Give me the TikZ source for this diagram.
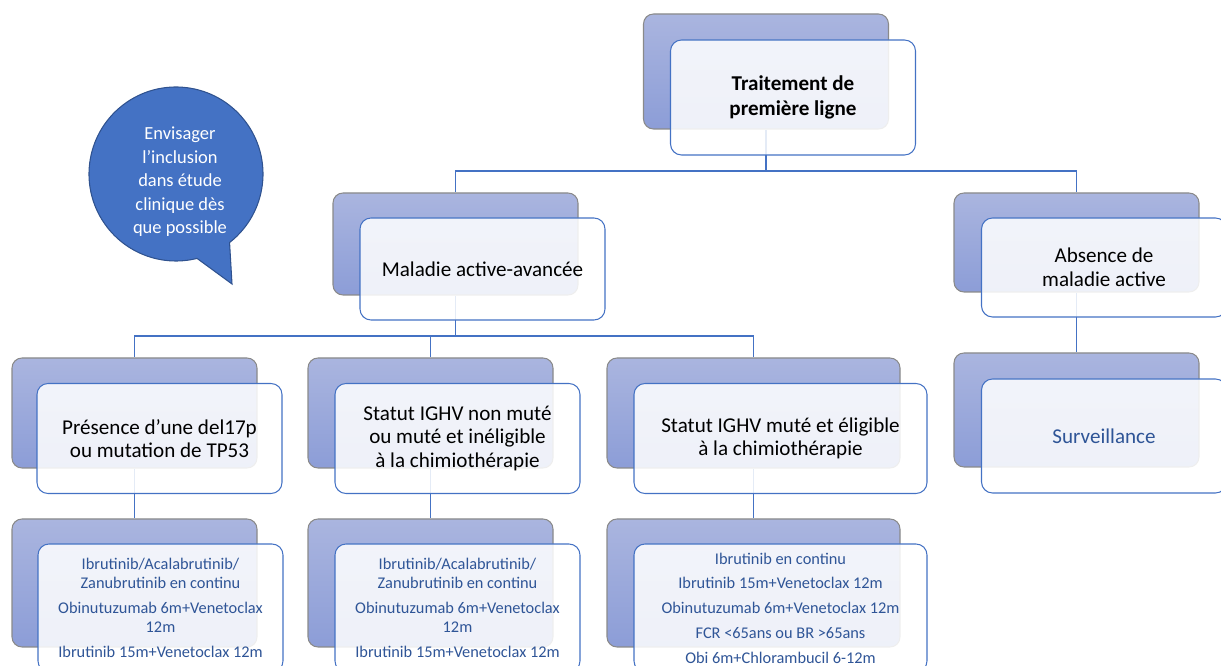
\documentclass[tikz,border=0pt]{standalone}
\usepackage{fontspec}
\setmainfont{Carlito}
\usepackage{tikz}
\usepackage{color}

\definecolor{bleuTrait}{HTML}{4472C4}
\definecolor{bleuBord}{HTML}{2F528F}
\definecolor{bleuTexte}{HTML}{2F5597}
\definecolor{fondHaut}{HTML}{AAB5DF}
\definecolor{fondBas}{HTML}{8C9DD7}
\definecolor{bordFond}{HTML}{8A8A8A}

\tikzset{
	fond/.style={draw=bordFond, line width=0.6pt, rounded corners=0.2cm, top color=fondHaut, bottom color=fondBas, minimum width=4.9cm, inner sep=0pt},
	carte/.style={draw=bleuTrait, line width=0.6pt, rounded corners=0.22cm, fill=white, fill opacity=0.86, text opacity=1, minimum width=4.9cm, align=center, inner sep=2pt, font=\fontsize{12}{13.4}\selectfont},
	liste/.style={carte, text=bleuTexte, font=\fontsize{9.3}{10.8}\selectfont},
	lien/.style={draw=bleuTrait, line width=0.7pt},
	bulle/.style={fill=bleuTrait, draw=bleuBord, line width=0.6pt}
}

\begin{document}
\begin{tikzpicture}
	\useasboundingbox (0,0) rectangle (24.42,-13.32);
	\clip (0,0) rectangle (24.42,-13.32);
	\node[fond, minimum height=2.3cm] (titreF) at (15.32,-1.43) {};
	\node[fond, minimum height=2.04cm] (maladieF) at (9.11,-4.88) {};
	\node[fond, minimum height=1.98cm] (absenceF) at (21.53,-4.85) {};
	\node[fond, minimum height=2.28cm] (survF) at (21.53,-8.2) {};
	\node[fond, minimum height=2.2cm] (cas1F) at (2.69,-8.26) {};
	\node[fond, minimum height=2.2cm] (cas2F) at (8.61,-8.26) {};
	\node[fond, minimum height=2.2cm, minimum width=5.86cm] (cas3F) at (15.07,-8.26) {};
	\node[fond, minimum height=2.56cm] (trt1F) at (2.69,-11.66) {};
	\node[fond, minimum height=2.56cm] (trt2F) at (8.61,-11.66) {};
	\node[fond, minimum height=2.56cm, minimum width=5.86cm] (trt3F) at (15.07,-11.66) {};

	\coordinate (j1) at (0,-3.42);
	\coordinate (j2) at (0,-6.72);
	\draw[lien] (titreF.south) -- (titreF.south |- j1) -| (maladieF.north);
	\draw[lien] (titreF.south |- j1) -| (absenceF.north);
	\draw[lien] (maladieF.south) -- (maladieF.south |- j2) -| (cas1F.north);
	\draw[lien] (maladieF.south |- j2) -| (cas2F.north);
	\draw[lien] (maladieF.south |- j2) -| (cas3F.north);
	\draw[lien] (cas1F.south) -- (trt1F.north);
	\draw[lien] (cas2F.south) -- (trt2F.north);
	\draw[lien] (cas3F.south) -- (trt3F.north);
	\draw[lien] (absenceF.south) -- (survF.north);

	\node[carte, minimum height=2.3cm, font=\bfseries\fontsize{12}{14.2}\selectfont] (titre) at ([shift={(0.54,-0.52)}]titreF.center) {Traitement de\\première ligne};
	\node[carte, minimum height=2.04cm] (maladie) at ([shift={(0.54,-0.5)}]maladieF.center) {Maladie active-avancée};
	\node[carte, minimum height=1.98cm] (absence) at ([shift={(0.55,-0.5)}]absenceF.center) {Absence de\\maladie active};
	\node[carte, minimum height=2.28cm, text=bleuTexte] (surv) at ([shift={(0.55,-0.52)}]survF.center) {Surveillance};
	\node[carte, minimum height=2.2cm] (cas1) at ([shift={(0.5,-0.51)}]cas1F.center) {Présence d’une del17p\\ou mutation de TP53};
	\node[carte, minimum height=2.2cm] (cas2) at ([shift={(0.54,-0.51)}]cas2F.center) {Statut IGHV non muté\\ou muté et inéligible\\à la chimiothérapie};
	\node[carte, minimum height=2.2cm, minimum width=5.86cm] (cas3) at ([shift={(0.54,-0.51)}]cas3F.center) {Statut IGHV muté et éligible\\à la chimiothérapie};
	\node[liste, minimum height=2.56cm] (trt1) at ([shift={(0.52,-0.5)}]trt1F.center) {Ibrutinib/Acalabrutinib/\\Zanubrutinib en continu\\[3.3pt]Obinutuzumab 6m+Venetoclax\\12m\\[3.3pt]Ibrutinib 15m+Venetoclax 12m};
	\node[liste, minimum height=2.56cm] (trt2) at ([shift={(0.54,-0.5)}]trt2F.center) {Ibrutinib/Acalabrutinib/\\Zanubrutinib en continu\\[3.3pt]Obinutuzumab 6m+Venetoclax\\12m\\[3.3pt]Ibrutinib 15m+Venetoclax 12m};
	\node[liste, minimum height=2.56cm, minimum width=5.86cm] (trt3) at ([shift={(0.54,-0.5)}]trt3F.center) {Ibrutinib en continu\\[3.3pt]Ibrutinib 15m+Venetoclax 12m\\[3.3pt]Obinutuzumab 6m+Venetoclax 12m\\[3.3pt]FCR <65ans ou BR >65ans\\[3.3pt]Obi 6m+Chlorambucil 6-12m};

	\draw[bulle] (3.52,-3.48) ++(-52:1.74) arc[start angle=-52, end angle=284, radius=1.74] -- (4.64,-5.68) -- cycle;
	\node[text=white, align=center, font=\fontsize{10.5}{13.4}\selectfont] (inclusion) at (3.6,-3.64) {Envisager\\l’inclusion\\dans étude\\clinique dès\\que possible};
\end{tikzpicture}
\end{document}
